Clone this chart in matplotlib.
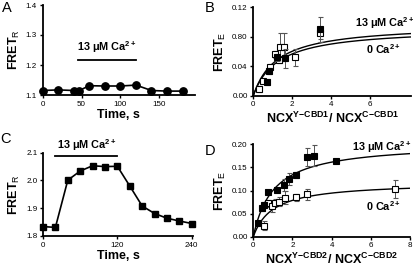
import numpy as np
import matplotlib
matplotlib.use("Agg")
import matplotlib.pyplot as plt

plt.rcParams['font.family'] = ['Liberation Sans', 'DejaVu Sans']
plt.rcParams['mathtext.fontset'] = 'custom'
plt.rcParams['mathtext.rm'] = 'Liberation Sans'
plt.rcParams['mathtext.bf'] = 'Liberation Sans:bold'
plt.rcParams['mathtext.it'] = 'Liberation Sans:italic'

# ---- Panel A data ----
a_time = [0, 20, 40, 47, 60, 80, 100, 120, 140, 160, 180]
a_fret = [1.115, 1.117, 1.115, 1.115, 1.131, 1.130, 1.130, 1.133, 1.115, 1.113, 1.113]
a_bar = [45, 120]
a_yticks = [1.1, 1.2, 1.3, 1.4]
a_xticks = [0, 50, 100, 150]

# ---- Panel B data ----
b_ca_x = [0.71, 0.80, 1.23, 1.62, 3.44]
b_ca_y = [0.018, 0.033, 0.052, 0.051, 0.090]
b_ca_err = [0.004, 0.004, 0.005, 0.013, 0.017]
b_0_x = [0.31, 0.49, 0.87, 1.10, 1.30, 1.38, 1.57, 2.15, 3.44]
b_0_y = [0.0086, 0.020, 0.039, 0.056, 0.049, 0.066, 0.066, 0.052, 0.085]
b_0_err = [0.004, 0.003, 0.004, 0.005, 0.004, 0.019, 0.019, 0.012, 0.008]
b_fit_ca = (0.097, 1.22)   # Bmax, Kd
b_fit_0 = (0.092, 1.25)
b_yticks = [0.0, 0.04, 0.08, 0.12]
b_yticklabels = ['0.00', '0.04', '0.80', '0.12']
b_xticks = [0, 2, 4, 6]

# ---- Panel C data ----
c_time = [0, 20, 40, 60, 80, 100, 120, 140, 160, 180, 200, 220, 240]
c_fret = [1.834, 1.831, 2.001, 2.034, 2.053, 2.050, 2.051, 1.980, 1.908, 1.881, 1.864, 1.854, 1.845]
c_bar = [20, 120]
c_yticks = [1.8, 1.9, 2.0, 2.1]
c_xticks = [0, 120, 240]

# ---- Panel D data ----
d_ca_x = [0.26, 0.45, 0.55, 0.77, 1.22, 1.57, 1.82, 2.16, 2.74, 3.12, 4.2]
d_ca_y = [0.029, 0.062, 0.069, 0.096, 0.101, 0.112, 0.124, 0.133, 0.172, 0.175, 0.163]
d_ca_err = [0.003, 0.007, 0.006, 0.004, 0.004, 0.012, 0.013, 0.007, 0.020, 0.023, 0.003]
d_0_x = [0.55, 0.75, 0.95, 1.12, 1.30, 1.60, 2.20, 2.75, 7.25]
d_0_y = [0.024, 0.072, 0.066, 0.074, 0.076, 0.084, 0.085, 0.092, 0.103]
d_0_err = [0.010, 0.007, 0.012, 0.008, 0.010, 0.014, 0.008, 0.012, 0.020]
d_fit_ca = (0.203, 1.03)
d_fit_0 = (0.118, 1.0)
d_yticks = [0.0, 0.05, 0.10, 0.15, 0.20]
d_xticks = [0, 2, 4, 6, 8]

W, H = 413, 266
fig = plt.figure(figsize=(W / 100, H / 100), dpi=100)

def px_axes(left, top, right, bottom):
    return fig.add_axes([left / W, 1 - bottom / H, (right - left) / W, (bottom - top) / H])

TICK_FS = 5.8
LAB_FS = 9
ANN_FS = 7.8

def style(ax):
    for s in ['top', 'right']:
        ax.spines[s].set_visible(False)
    for s in ['left', 'bottom']:
        ax.spines[s].set_linewidth(1.3)
    ax.tick_params(direction='out', length=2.5, width=1.0, labelsize=TICK_FS, pad=1.5)

ca_label = r'13 μM Ca$^{\mathbf{2+}}$'
zero_label = r'0 Ca$^{\mathbf{2+}}$'

# ---- A ----
axA = px_axes(42.7, 5, 195, 95)
style(axA)
axA.plot(a_time, a_fret, '-o', color='black', lw=1.2, ms=5.3, clip_on=False, zorder=3)
axA.set_xlim(0, 196)
axA.set_ylim(1.1, 1.4)
axA.set_yticks(a_yticks)
axA.set_xticks(a_xticks)
axA.plot(a_bar, [1.217, 1.217], color='black', lw=1.3)
axA.text(np.mean(a_bar), 1.232, ca_label, ha='center', va='bottom', fontsize=ANN_FS, fontweight='bold')
axA.set_xlabel('Time, s', fontsize=LAB_FS, fontweight='bold', labelpad=1)
axA.set_ylabel(r'FRET$_{\mathrm{R}}$', fontsize=LAB_FS, fontweight='bold', labelpad=3)

# ---- B ----
axB = px_axes(253.3, 7.3, 411, 95.7)
style(axB)
xs = np.linspace(0, 8.13, 200)
axB.plot(xs, b_fit_ca[0] * xs / (b_fit_ca[1] + xs), color='black', lw=1.0)
axB.plot(xs, b_fit_0[0] * xs / (b_fit_0[1] + xs), color='black', lw=1.0)
axB.errorbar(b_0_x, b_0_y, yerr=b_0_err, fmt='s', mfc='white', mec='black', mew=0.8, ms=4.3,
             ecolor='#555555', elinewidth=0.7, capsize=1.8, capthick=0.7, zorder=3)
axB.errorbar(b_ca_x, b_ca_y, yerr=b_ca_err, fmt='s', mfc='black', mec='black', mew=0.8, ms=4.3,
             ecolor='#555555', elinewidth=0.7, capsize=1.8, capthick=0.7, zorder=4)
axB.set_xlim(0, 8.13)
axB.set_ylim(0, 0.12)
axB.set_yticks(b_yticks)
axB.set_yticklabels(b_yticklabels)
axB.set_xticks(b_xticks)
axB.text(8.3, 0.098, ca_label, ha='right', va='center', fontsize=ANN_FS, fontweight='bold', clip_on=False)
axB.text(7.6, 0.063, zero_label, ha='right', va='center', fontsize=ANN_FS, fontweight='bold')
axB.set_xlabel(r'NCX$^{\mathbf{Y\!-\!CBD1}}$/ NCX$^{\mathbf{C\!-\!CBD1}}$', fontsize=LAB_FS,
               fontweight='bold', labelpad=2)
axB.set_ylabel(r'FRET$_{\mathrm{E}}$', fontsize=LAB_FS, fontweight='bold', labelpad=3)

# ---- C ----
axC = px_axes(43, 152.7, 193, 236)
style(axC)
axC.plot(c_time, c_fret, '-s', color='black', lw=1.2, ms=4.8, clip_on=False, zorder=3)
axC.set_xlim(0, 242)
axC.set_ylim(1.8, 2.1)
axC.set_yticks(c_yticks)
axC.set_xticks(c_xticks)
axC.plot(c_bar, [2.088, 2.088], color='black', lw=1.3, clip_on=False)
axC.text(np.mean(c_bar), 2.1, ca_label, ha='center', va='bottom', fontsize=ANN_FS, fontweight='bold')
axC.set_xlabel('Time, s', fontsize=LAB_FS, fontweight='bold', labelpad=1)
axC.set_ylabel(r'FRET$_{\mathrm{R}}$', fontsize=LAB_FS, fontweight='bold', labelpad=3)

# ---- D ----
axD = px_axes(253.3, 144.3, 410, 236.7)
style(axD)
xs = np.linspace(0, 8, 200)
axD.plot(xs, d_fit_ca[0] * xs / (d_fit_ca[1] + xs), color='black', lw=1.0)
axD.plot(xs, d_fit_0[0] * xs / (d_fit_0[1] + xs), color='black', lw=1.0)
axD.errorbar(d_0_x, d_0_y, yerr=d_0_err, fmt='s', mfc='white', mec='black', mew=0.8, ms=4.3,
             ecolor='#555555', elinewidth=0.7, capsize=1.8, capthick=0.7, zorder=3)
axD.errorbar(d_ca_x, d_ca_y, yerr=d_ca_err, fmt='s', mfc='black', mec='black', mew=0.8, ms=4.3,
             ecolor='#555555', elinewidth=0.7, capsize=1.8, capthick=0.7, zorder=4)
axD.set_xlim(0, 8)
axD.set_ylim(0, 0.2)
axD.set_yticks(d_yticks)
axD.set_yticklabels(['0.00', '0.05', '0.10', '0.15', '0.20'])
axD.set_xticks(d_xticks)
axD.text(8.1, 0.193, ca_label, ha='right', va='center', fontsize=ANN_FS, fontweight='bold', clip_on=False)
axD.text(7.5, 0.066, zero_label, ha='right', va='center', fontsize=ANN_FS, fontweight='bold')
axD.set_xlabel(r'NCX$^{\mathbf{Y\!-\!CBD2}}$/ NCX$^{\mathbf{C\!-\!CBD2}}$', fontsize=LAB_FS,
               fontweight='bold', labelpad=2)
axD.set_ylabel(r'FRET$_{\mathrm{E}}$', fontsize=LAB_FS, fontweight='bold', labelpad=3)

# panel letters
for lab, x, y in [('A', 2, 1), ('B', 205, 1), ('C', 0, 132), ('D', 205, 144)]:
    fig.text(x / W, 1 - y / H, lab, ha='left', va='top', fontsize=10.5)

fig.savefig('out.png', dpi=100)
